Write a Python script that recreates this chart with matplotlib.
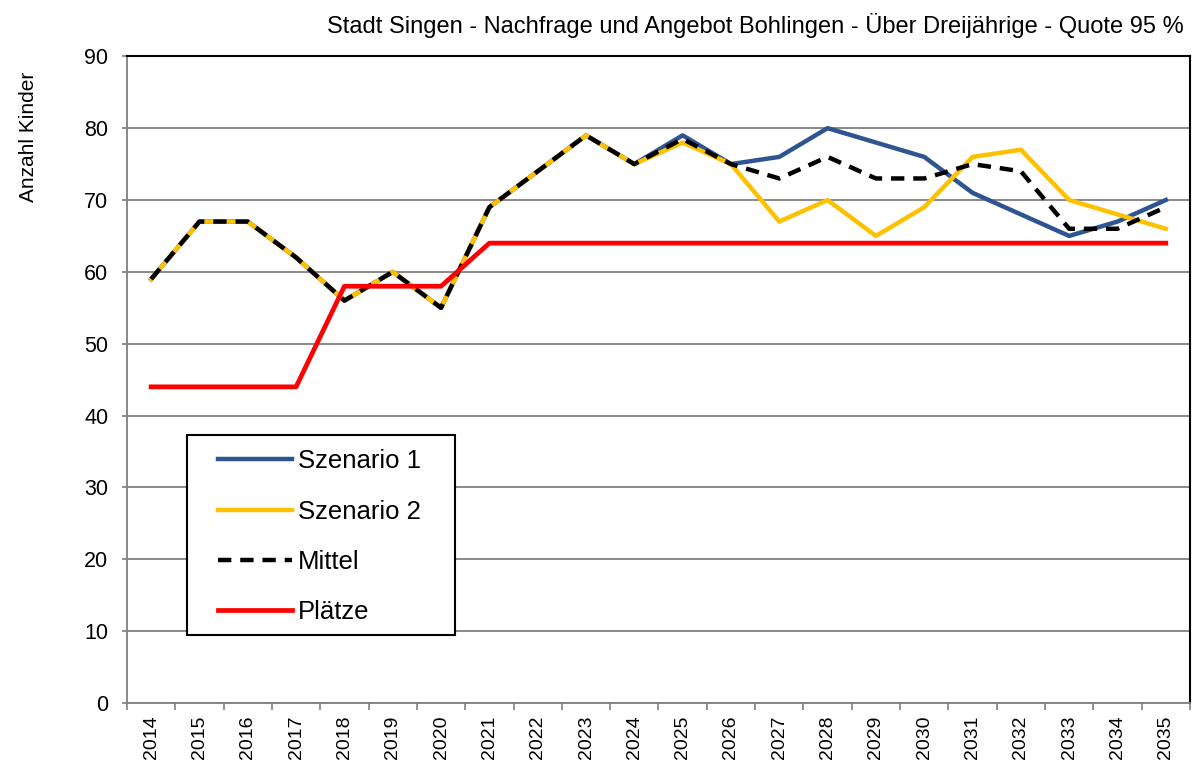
import matplotlib
matplotlib.use("Agg")
import matplotlib.pyplot as plt
from matplotlib.patches import Rectangle
import numpy as np

years = [str(y) for y in range(2014, 2036)]
szenario1 = [59, 67, 67, 62, 56, 60, 55, 69, 74, 79, 75, 79, 75, 76, 80, 78, 76, 71, 68, 65, 67, 70]
szenario2 = [59, 67, 67, 62, 56, 60, 55, 69, 74, 79, 75, 78, 75, 67, 70, 65, 69, 76, 77, 70, 68, 66]
mittel    = [59, 67, 67, 62, 56, 60, 55, 69, 74, 79, 75, 78.5, 75, 73, 76, 73, 73, 75, 74, 66, 66, 69]
plaetze   = [44, 44, 44, 44, 58, 58, 58, 64, 64, 64, 64, 64, 64, 64, 64, 64, 64, 64, 64, 64, 64, 64]
title = "Stadt Singen - Nachfrage und Angebot Bohlingen - Über Dreijährige - Quote 95 %"

plt.rcParams['font.family'] = ['Liberation Sans', 'DejaVu Sans']

fig = plt.figure(figsize=(11.98, 7.82), dpi=100)
ax = fig.add_axes([0.106, 0.101, 0.8873, 0.827])

x = np.arange(len(years))
ax.plot(x, szenario1, color='#2E5591', lw=3.2, label='Szenario 1', zorder=3)
ax.plot(x, szenario2, color='#FFC000', lw=3.2, label='Szenario 2', zorder=4)
ax.plot(x, mittel, color='black', lw=3.2, ls=(0, (3, 2)), label='Mittel', zorder=5)
ax.plot(x, plaetze, color='#FF0000', lw=3.4, label='Plätze', zorder=6)

ax.set_xlim(-0.5, len(years) - 0.5)
ax.set_ylim(0, 90)
ax.set_yticks(np.arange(0, 91, 10))
ax.tick_params(axis='y', labelsize=15.5, length=3.5, color='#808080', width=1.2, pad=10)
ax.set_xticks(x)
ax.set_xticklabels(years, rotation=90, fontsize=14)
ax.tick_params(axis='x', which='major', length=0, pad=9)
ax.set_xticks(np.arange(-0.5, len(years), 1), minor=True)
ax.tick_params(axis='x', which='minor', length=5, color='#808080', width=1.2)

ax.yaxis.grid(True, color='#808080', lw=1.3)
ax.set_axisbelow(True)
for s in ['left', 'bottom']:
    ax.spines[s].set_color('#808080')
    ax.spines[s].set_linewidth(1.3)
for s in ['top', 'right']:
    ax.spines[s].set_color('black')
    ax.spines[s].set_linewidth(1.5)

# legend frame drawn separately
frame = Rectangle((0.0564, 0.105), 0.2522, 0.309, transform=ax.transAxes,
                  facecolor='white', edgecolor='black', lw=1.5, zorder=9)
ax.add_patch(frame)
leg = ax.legend(loc='upper left', bbox_to_anchor=(0.0734, 0.412), borderaxespad=0,
                fontsize=18.5, frameon=False, handlelength=2.9,
                labelspacing=1.02, borderpad=0.5, handletextpad=0.2)
leg.set_zorder(10)

fig.text(0.024, 0.825, "Anzahl Kinder", rotation=90, fontsize=15, ha='center', va='center')
fig.text(0.988, 0.968, title, fontsize=17, ha='right', va='center')

fig.savefig("out.png", dpi=100, facecolor='white')
